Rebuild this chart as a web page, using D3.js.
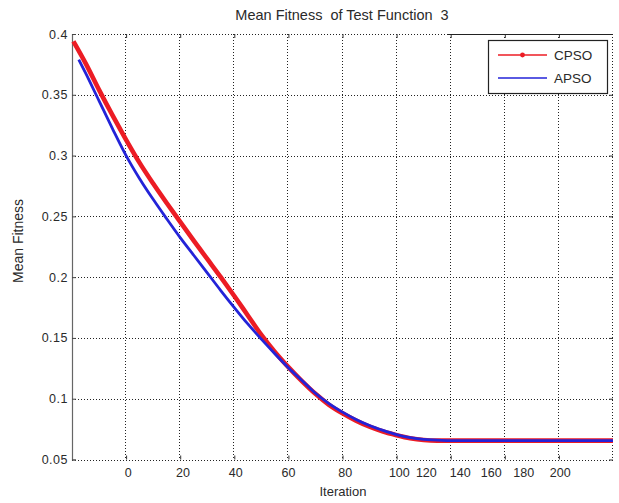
<!DOCTYPE html>
<html>
<head>
<meta charset="utf-8">
<script src="https://cdn.jsdelivr.net/npm/d3@7"></script>
<style>
  html, body { margin: 0; padding: 0; background: #fff; }
  svg { display: block; font-family: "Liberation Sans", Arial, sans-serif; }
</style>
</head>
<body>
<svg id="chart" width="619" height="503"></svg>
<script>
// Iteration values and mean fitness for each optimiser
const cpsoIter = [-19.5, -15, -10, -5, 0, 5, 10, 15, 20, 25, 30, 35, 40, 45, 50, 55, 60, 65, 70, 75, 80, 85, 90, 95, 100, 105, 110, 115, 120, 140, 160, 180];
const cpsoFit  = [0.394, 0.376, 0.354, 0.333, 0.313, 0.294, 0.277, 0.261, 0.2455, 0.230, 0.215, 0.200, 0.1845, 0.1685, 0.1525, 0.1385, 0.126, 0.1145, 0.104, 0.095, 0.088, 0.082, 0.077, 0.073, 0.070, 0.0675, 0.066, 0.0655, 0.0655, 0.0655, 0.0655, 0.0655];

const apsoIter = [-17.5, -15, -10, -5, 0, 5, 10, 15, 20, 25, 30, 35, 40, 45, 50, 55, 60, 65, 70, 75, 80, 85, 90, 95, 100, 105, 110, 115, 120, 140, 160, 180];
const apsoFit  = [0.379, 0.368, 0.345, 0.322, 0.300, 0.281, 0.264, 0.248, 0.2325, 0.218, 0.2035, 0.189, 0.175, 0.1615, 0.149, 0.137, 0.1255, 0.115, 0.1045, 0.096, 0.089, 0.083, 0.078, 0.074, 0.0705, 0.068, 0.0665, 0.066, 0.0655, 0.0655, 0.0655, 0.0655];

// Axis ticks and labels
const xGridValues  = [0, 20, 40, 60, 80, 100, 120, 140, 160, 180];
const xTickLabels  = ["0", "20", "40", "60", "80", "100", "120", "140", "160", "180", "200"];
const xTickLabelAt = [0.8, 21, 40.5, 60, 81, 101, 111, 123.5, 135, 147, 160.5];
const yTickValues  = [0.05, 0.1, 0.15, 0.2, 0.25, 0.3, 0.35, 0.4];

const seriesNames = ["CPSO", "APSO"];
const seriesColors = ["#ec1c24", "#2323d8"];

const svg = d3.select("#chart");
const plotLeft = 72, plotRight = 613, plotTop = 34, plotBottom = 459.5;

const x = d3.scaleLinear().domain([-20, 180]).range([plotLeft, plotRight]);
const y = d3.scaleLinear().domain([0.05, 0.4]).range([plotBottom, plotTop]);

const textColor = "#2a2a2a";

// dotted grid
const grid = svg.append("g").attr("stroke", "#222").attr("stroke-width", 1)
  .attr("stroke-dasharray", "1,2").attr("fill", "none");
grid.selectAll("line.v").data(xGridValues).join("line").attr("class", "v")
  .attr("x1", d => Math.round(x(d)) - 0.5).attr("x2", d => Math.round(x(d)) - 0.5)
  .attr("y1", plotTop).attr("y2", plotBottom);
grid.selectAll("line.h").data(yTickValues).join("line").attr("class", "h")
  .attr("x1", plotLeft).attr("x2", plotRight)
  .attr("y1", d => Math.round(y(d)) + 0.5).attr("y2", d => Math.round(y(d)) + 0.5);

// inward tick marks on the frame
const tickVals = xGridValues.filter(v => v < 180);
const bottomAxis = svg.append("g").attr("transform", `translate(0,${plotBottom})`)
  .call(d3.axisBottom(x).tickValues(tickVals).tickSize(-4).tickFormat(""));
const topAxis = svg.append("g").attr("transform", `translate(0,${plotTop})`)
  .call(d3.axisTop(x).tickValues(tickVals).tickSize(-4).tickFormat(""));
const rightAxis = svg.append("g").attr("transform", `translate(${plotRight},0)`)
  .call(d3.axisRight(y).tickValues(yTickValues).tickSize(-4).tickFormat(""));
[bottomAxis, topAxis, rightAxis].forEach(g => {
  g.select(".domain").remove();
  g.selectAll(".tick line").attr("stroke", "#333");
});

const leftAxis = svg.append("g").attr("transform", `translate(${plotLeft},0)`)
  .call(d3.axisLeft(y).tickValues(yTickValues).tickSize(-4).tickPadding(4)
    .tickFormat(d => String(d)));
leftAxis.select(".domain").attr("stroke", "#666").attr("stroke-width", 1.2);
leftAxis.selectAll(".tick line").attr("stroke", "#444");
leftAxis.selectAll(".tick text").attr("fill", textColor)
  .style("font-size", "12.5px").style("letter-spacing", "0.5px");

// x tick labels
svg.append("g").selectAll("text").data(xTickLabels).join("text")
  .attr("x", (d, i) => x(xTickLabelAt[i]))
  .attr("y", 473).attr("dy", "0.35em")
  .attr("text-anchor", "middle")
  .attr("fill", textColor)
  .style("font-size", "12.5px")
  .text(d => d);

// series lines
const line = d3.line().curve(d3.curveMonotoneX).x(d => x(d[0])).y(d => y(d[1]));
const cpsoPts = cpsoIter.map((v, i) => [v, cpsoFit[i]]);
const apsoPts = apsoIter.map((v, i) => [v, apsoFit[i]]);

svg.append("path").datum(cpsoPts).attr("d", line)
  .attr("fill", "none").attr("stroke", seriesColors[0]).attr("stroke-width", 4.6)
  .attr("stroke-linejoin", "round");
svg.append("path").datum(apsoPts).attr("d", line)
  .attr("fill", "none").attr("stroke", seriesColors[1]).attr("stroke-width", 2.8)
  .attr("stroke-linejoin", "round");

// solid top edge behind the legend
svg.append("line").attr("x1", 447).attr("x2", plotRight)
  .attr("y1", plotTop + 0.5).attr("y2", plotTop + 0.5)
  .attr("stroke", "#222").attr("stroke-width", 1.2);

// legend
const legend = svg.append("g").attr("transform", "translate(488,40)");
legend.append("rect").attr("x", 0.5).attr("y", 0.5).attr("width", 119).attr("height", 53)
  .attr("fill", "#fff").attr("stroke", "#222").attr("stroke-width", 1.2);
seriesNames.forEach((name, i) => {
  const ly = 15 + i * 23;
  legend.append("line").attr("x1", 10).attr("x2", 59).attr("y1", ly).attr("y2", ly)
    .attr("stroke", seriesColors[i]).attr("stroke-width", 1.6);
  if (i === 0) {
    legend.append("circle").attr("cx", 34.5).attr("cy", ly).attr("r", 2.4)
      .attr("fill", seriesColors[i]);
  }
  legend.append("text").attr("x", 66).attr("y", ly).attr("dy", "0.35em")
    .attr("fill", textColor).style("font-size", "13.5px").text(name);
});

// title and axis labels
svg.append("text").attr("x", 342).attr("y", 15).attr("dy", "0.35em")
  .attr("text-anchor", "middle").attr("fill", textColor)
  .style("font-size", "14.5px").style("white-space", "pre")
  .text("Mean Fitness  of Test Function  3");

svg.append("text").attr("x", 343).attr("y", 491).attr("dy", "0.35em")
  .attr("text-anchor", "middle").attr("fill", textColor)
  .style("font-size", "13px").text("Iteration");

svg.append("text")
  .attr("transform", "translate(18,241) rotate(-90)")
  .attr("dy", "0.35em").attr("text-anchor", "middle").attr("fill", textColor)
  .style("font-size", "14px").text("Mean Fitness");
</script>
</body>
</html>
